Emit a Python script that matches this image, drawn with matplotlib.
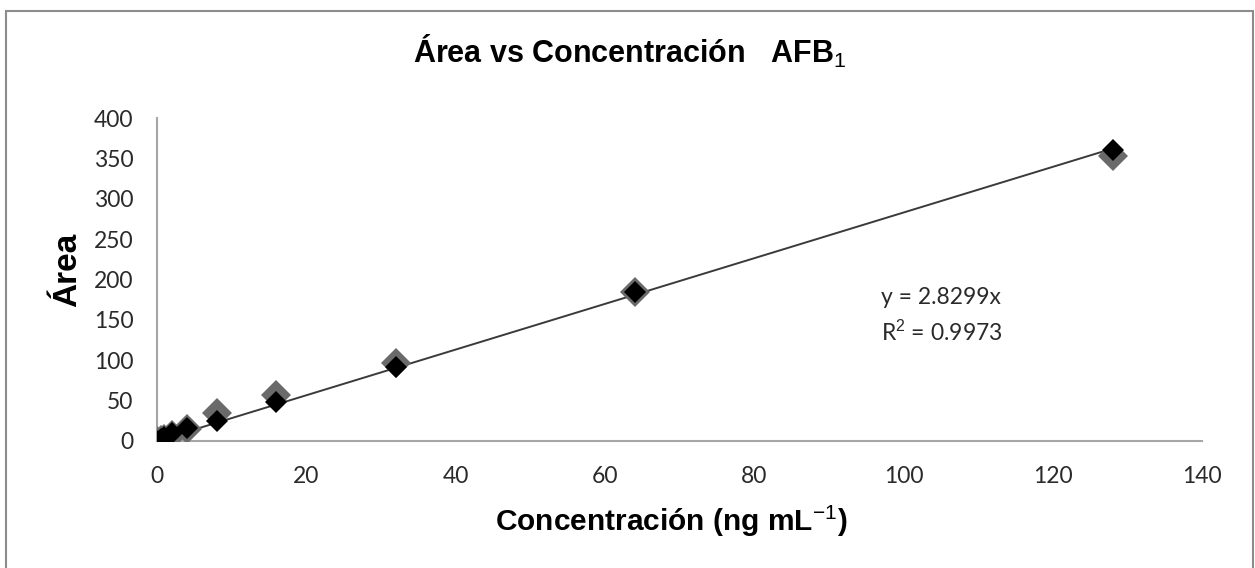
import matplotlib.pyplot as plt
from matplotlib.patches import Rectangle
import numpy as np

plt.rcParams['mathtext.fontset'] = 'custom'
plt.rcParams['mathtext.rm'] = 'Liberation Sans'
plt.rcParams['mathtext.bf'] = 'Liberation Sans:bold'

# concentration levels (ng/mL) and the two replicate areas
conc = [0, 0.5, 1, 2, 4, 8, 16, 32, 64, 128]
area_rep1 = [0, 1, 3, 8, 15, 35, 57, 97, 185, 353]
area_rep2 = [0, 2, 5, 10, 16, 25, 48, 92, 184, 360]
slope = 2.8299
r2 = 0.9973

fig = plt.figure(figsize=(12.55, 5.68), dpi=100)
ax = fig.add_axes([0.125, 0.2236, 0.833, 0.5686])

# trend line through the origin
xs = np.array([0, max(conc)])
ax.plot(xs, slope * xs, color='#3a3a3a', lw=1.4, zorder=2)

ax.plot(conc, area_rep1, 'D', color='#6a6a6a', markersize=15,
        markeredgewidth=0, zorder=3)
ax.plot(conc, area_rep2, 'D', color='black', markersize=11.5,
        markeredgewidth=0, zorder=4)

ax.set_xlim(0, 140)
ax.set_ylim(0, 400)
ax.set_xticks(range(0, 141, 20))
ax.set_yticks(range(0, 401, 50))
for s in ['top', 'right']:
    ax.spines[s].set_visible(False)
for s in ['left', 'bottom']:
    ax.spines[s].set_color('#a6a6a6')
    ax.spines[s].set_linewidth(1.5)
ax.tick_params(axis='x', length=0, pad=18, labelsize=16.5, labelcolor='#2a2a2a')
ax.tick_params(axis='y', length=0, pad=17, labelsize=16.5, labelcolor='#2a2a2a')
for lab in ax.get_xticklabels() + ax.get_yticklabels():
    lab.set_fontfamily('Lato')

ax.text(97, 170, f"y = {slope}x", fontsize=16.5, family='Lato', color='#2a2a2a')
ax.text(97, 124, f"R$^2$ = {r2}", fontsize=16.5, family='Lato', color='#2a2a2a')

fig.text(0.502, 0.91, r"Área vs Concentración   AFB$_\mathrm{1}$",
         ha='center', va='center', fontsize=22, fontweight='bold',
         family='Liberation Sans')
fig.text(0.535, 0.083, r"Concentración (ng mL$^{\mathrm{-1}}$)",
         ha='center', va='center', fontsize=21.5, fontweight='bold',
         family='Liberation Sans')
fig.text(0.054, 0.525, "Área", rotation=90, ha='center', va='center',
         fontsize=24, fontweight='bold', family='Liberation Sans')

# chart border
fig.patches.append(Rectangle((6 / 1255, -0.05), 1247 / 1255, 1.03,
                             transform=fig.transFigure, fill=False,
                             edgecolor='#8c8c8c', lw=1.5))

plt.savefig("out.png", dpi=100)
